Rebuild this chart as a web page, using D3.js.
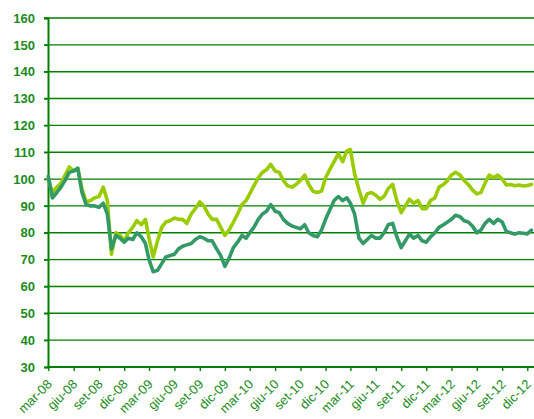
<!DOCTYPE html>
<html>
<head>
<meta charset="utf-8">
<script src="https://cdn.jsdelivr.net/npm/d3@7"></script>
<style>
  html, body { margin: 0; padding: 0; background: #fff; }
  svg { display: block; font-family: "Liberation Sans", Arial, sans-serif; }
</style>
</head>
<body>
<div id="chart"></div>
<script>
// two half-monthly series, mar-08 .. dic-12
const startDate = new Date(2008, 2, 1);

const lightValues = [
  100, 95, 97, 98.5, 101.5, 104.5, 103, 104, 96.5, 91.5,
  92, 93, 93.5, 97, 92, 72, 80, 79, 77, 80,
  82, 84.5, 83, 85, 78, 71, 77, 82, 84, 84.5,
  85.5, 85, 85, 83.5, 87, 89, 91.5, 90, 87, 85,
  85, 82, 79, 81, 84, 87, 90.5, 92, 94.5, 97.5,
  100.5, 102.5, 103.5, 105.5, 103, 102.5, 99.5, 97.5, 97, 98,
  99.5, 101.5, 98, 95.5, 95, 95.5, 100.5, 103.5, 106.5, 109.5,
  106.5, 110.5, 111, 102, 96, 91, 94.5, 95, 94, 92.5,
  93.5, 96.5, 98, 92, 87.5, 90, 92.5, 91, 92, 89,
  89, 92, 93, 97, 98, 99.5, 101.5, 102.5, 101.5, 99.5,
  98, 96, 94.5, 95, 98.5, 101.5, 100.5, 101.5, 100, 97.8,
  98, 97.5, 97.8, 97.4, 97.6, 98
];

const darkValues = [
  101, 93, 95, 97, 99.5, 102.5, 103, 104, 95, 90.5,
  90, 90, 89.5, 91, 87, 74, 79, 78, 76.5, 78,
  77.5, 80, 78.5, 76, 70, 65.5, 66, 68.5, 71, 71.5,
  72, 74, 75, 75.5, 76, 77.5, 78.5, 78, 77, 77,
  74, 71.5, 67.5, 70.5, 74.5, 76.5, 79, 78, 80, 82,
  85, 87, 88, 90.5, 88, 87.5, 85, 83.5, 82.5, 82,
  81.5, 83, 80, 79, 78.5, 81, 85, 88.5, 92, 93.5,
  92, 93, 91, 87, 78, 76, 77.5, 79, 78, 78,
  80, 83, 83.5, 78.5, 74.5, 77, 79.5, 78, 79, 77,
  76.5, 78.5, 80, 82, 83, 84, 85, 86.5, 86, 84.5,
  84, 82.5, 80, 81, 83.5, 85, 83.5, 85, 84, 80.5,
  80, 79.5, 80, 79.8, 79.6, 81
];

const yTicks = [30, 40, 50, 60, 70, 80, 90, 100, 110, 120, 130, 140, 150, 160];
const tickLabels = [
  'mar-08', 'giu-08', 'set-08', 'dic-08', 'mar-09', 'giu-09', 'set-09', 'dic-09',
  'mar-10', 'giu-10', 'set-10', 'dic-10', 'mar-11', 'giu-11', 'set-11', 'dic-11',
  'mar-12', 'giu-12', 'set-12', 'dic-12'
];

const width = 534;
const height = 419;
const green = '#008000';
const textGreen = '#1a8c1a';

// point i sits half a month after point i-1
const dateAt = i => {
  const d = d3.timeMonth.offset(startDate, Math.floor(i / 2));
  return i % 2 ? d3.timeDay.offset(d, 15) : d;
};

const seriesData = [
  { id: 'light', color: '#99cc00', values: lightValues },
  { id: 'dark', color: '#339966', values: darkValues },
];

const tickDates = tickLabels.map((d, i) => d3.timeMonth.offset(startDate, i * 3));

const x = d3.scaleTime()
  .domain([tickDates[0], tickDates[tickDates.length - 1]])
  .range([48.3, 527.3]);

const y = d3.scaleLinear()
  .domain([30, 160])
  .range([367, 18]);

const svg = d3.select('#chart').append('svg')
  .attr('width', width)
  .attr('height', height);

// horizontal grid
svg.append('g')
  .selectAll('line')
  .data(yTicks.filter(d => d > 30))
  .join('line')
  .attr('x1', 44)
  .attr('x2', width)
  .attr('y1', d => y(d))
  .attr('y2', d => y(d))
  .attr('stroke', green)
  .attr('stroke-width', 1.4);

// y axis
const yAxis = svg.append('g')
  .attr('transform', 'translate(48,0)')
  .call(d3.axisLeft(y).tickValues(yTicks).tickSize(4).tickPadding(9));
yAxis.select('.domain').attr('stroke', green).attr('stroke-width', 2);
yAxis.selectAll('.tick line').attr('stroke', green).attr('stroke-width', 1.4);
yAxis.selectAll('.tick text')
  .attr('fill', textGreen)
  .attr('font-size', 13)
  .attr('font-weight', 'bold')
  .attr('font-family', '"Liberation Sans", Arial, sans-serif');

// lines
const line = d3.line()
  .x((d, i) => x(dateAt(i)))
  .y(d => y(d));

svg.append('g')
  .selectAll('path')
  .data(seriesData)
  .join('path')
  .attr('fill', 'none')
  .attr('stroke', d => d.color)
  .attr('stroke-width', 3.6)
  .attr('stroke-linejoin', 'round')
  .attr('stroke-linecap', 'round')
  .attr('d', d => line(d.values));

// x axis
const xAxis = svg.append('g')
  .attr('transform', `translate(0,${y(30)})`)
  .call(d3.axisBottom(x)
    .tickValues(tickDates)
    .tickFormat((d, i) => tickLabels[i])
    .tickSize(4)
    .tickSizeOuter(0));
xAxis.select('.domain')
  .attr('d', `M47,0H${width}`)
  .attr('stroke', green)
  .attr('stroke-width', 2);
xAxis.selectAll('.tick line').attr('stroke', green).attr('stroke-width', 1.4);
xAxis.selectAll('.tick text')
  .attr('fill', textGreen)
  .attr('font-size', 13)
  .attr('font-family', '"Liberation Sans", Arial, sans-serif')
  .attr('text-anchor', 'end')
  .attr('y', 0)
  .attr('dy', 0)
  .attr('transform', 'translate(4,18) rotate(-45)');
</script>
</body>
</html>
